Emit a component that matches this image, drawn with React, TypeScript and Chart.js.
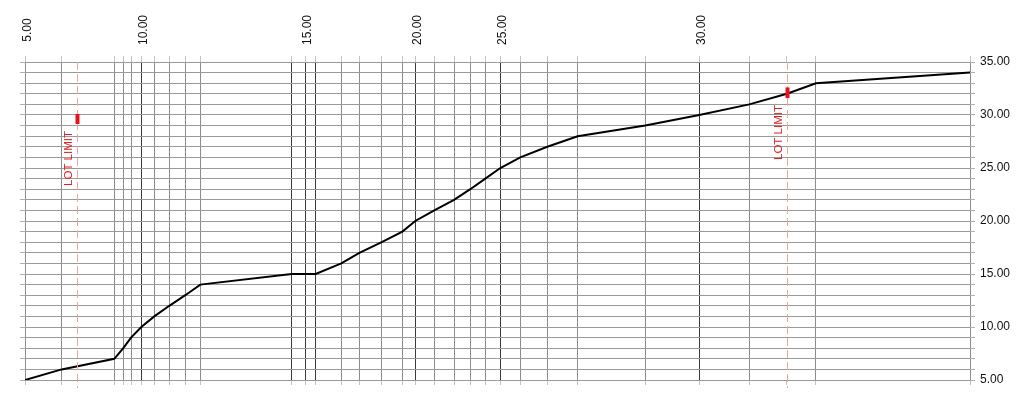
import React, { useEffect, useRef } from 'react';
import { Chart, registerables } from 'chart.js';

Chart.register(...registerables);

// Profile stations (distance along the section) and elevations at each contour crossing
const stations = [0, 3.88, 9.45, 10.4, 11.22, 12.31, 13.68, 15.27, 16.96, 18.55, 28.22, 29.66, 30.76, 33.47, 35.38, 37.75, 39.93, 41.3, 43.31, 45.4, 47.12, 48.71, 50.3, 52.41, 55.27, 58.48, 65.64, 71.35, 76.64, 80.63, 83.7, 100];
const elevations = [5, 6, 7, 8, 9, 10, 11, 12, 13, 14, 15, 15, 15, 16, 17, 18, 19, 20, 21, 22, 23, 24, 25, 26, 27, 28, 29, 30, 31, 32, 33, 34];

// Top axis labels
const topLabelStations = [0, 12.31, 29.66, 41.3, 50.3, 71.35];
const topLabels = ['5.00', '10.00', '15.00', '20.00', '25.00', '30.00'];
const majorStations = [12.31, 28.22, 29.66, 30.76, 41.3, 50.3, 71.35];

// Lot limits
const lotLimitStations = [5.53, 80.63];
const lotLimitMarkerLow = [29.15, 31.6];
const lotLimitMarkerHigh = [30.1, 32.6];
const lotLimitLabel = 'LOT LIMIT';

const yMin = 5;
const yMax = 35;
const xMin = 0;
const xMax = 100;

const FONT = "'Liberation Sans', Arial, sans-serif";

const profilePlugin = {
  id: 'profileExtras',
  afterDatasetsDraw(chart: any) {
    const { ctx, chartArea } = chart;
    const xs = chart.scales.x;
    const ys = chart.scales.y;
    ctx.save();
    // lot limits
    lotLimitStations.forEach((st, i) => {
      const px = Math.round(xs.getPixelForValue(st)) + 0.5;
      ctx.strokeStyle = '#f3a3a3';
      ctx.lineWidth = 1;
      ctx.setLineDash([8, 4]);
      ctx.beginPath();
      ctx.moveTo(px, chartArea.top);
      ctx.lineTo(px, chartArea.bottom + 8);
      ctx.stroke();
      ctx.setLineDash([]);
      const yTop = ys.getPixelForValue(lotLimitMarkerHigh[i]);
      const yBot = ys.getPixelForValue(lotLimitMarkerLow[i]);
      ctx.strokeStyle = '#e8121a';
      ctx.lineWidth = 4;
      ctx.beginPath();
      ctx.moveTo(px, yTop);
      ctx.lineTo(px, yBot);
      ctx.stroke();
      ctx.save();
      ctx.translate(px - 6, yBot + 7);
      ctx.rotate(-Math.PI / 2);
      ctx.fillStyle = '#e02020';
      ctx.font = `11.5px ${FONT}`;
      ctx.textAlign = 'right';
      ctx.textBaseline = 'alphabetic';
      ctx.fillText(lotLimitLabel, 0, 0);
      ctx.restore();
    });
    // top labels
    topLabelStations.forEach((st, i) => {
      const px = xs.getPixelForValue(st);
      ctx.save();
      ctx.translate(px + 6, 30);
      ctx.rotate(-Math.PI / 2);
      ctx.fillStyle = '#111';
      ctx.font = `12px ${FONT}`;
      ctx.textAlign = 'center';
      ctx.textBaseline = 'alphabetic';
      ctx.fillText(topLabels[i], 0, 0);
      ctx.restore();
    });
    ctx.restore();
  },
};

const vColor = (c: any) => {
  const v = c.tick ? c.tick.value : null;
  if (v === null) return 'rgba(0,0,0,0)';
  if (lotLimitStations.includes(v)) return 'rgba(0,0,0,0)';
  if (majorStations.includes(v)) return '#3a3a3a';
  return '#8c8c8c';
};

const vTickColor = (c: any) => {
  const v = c.tick ? c.tick.value : null;
  if (v === null) return 'rgba(0,0,0,0)';
  return '#c4c4c4';
};

const setStationTicks = (scale: any) => {
  scale.ticks = stations.map((v) => ({ value: v }));
};

export default function App() {
  const ref = useRef<HTMLCanvasElement>(null);
  useEffect(() => {
    if (!ref.current) return;
    const chart = new Chart(ref.current, {
      type: 'line',
      data: {
        datasets: [
          {
            data: stations.map((s, i) => ({ x: s, y: elevations[i] })),
            borderColor: '#000',
            borderWidth: 2,
            pointRadius: 0,
            tension: 0,
            fill: false,
            xAxisID: 'x',
            yAxisID: 'y',
          },
        ],
      },
      options: {
        animation: false,
        responsive: true,
        maintainAspectRatio: false,
        layout: { padding: 0 },
        plugins: { legend: { display: false }, tooltip: { enabled: false } },
        scales: {
          x: {
            type: 'linear',
            position: 'top',
            min: xMin,
            max: xMax,
            afterBuildTicks: setStationTicks,
            afterFit: (s: any) => { s.height = 62; },
            ticks: { display: false, autoSkip: false },
            grid: { color: vColor, tickColor: vTickColor, tickLength: 6, lineWidth: 1 },
            border: { display: false },
          },
          x2: {
            type: 'linear',
            position: 'bottom',
            min: xMin,
            max: xMax,
            afterBuildTicks: setStationTicks,
            afterFit: (s: any) => { s.height = 20; },
            ticks: { display: false, autoSkip: false },
            grid: { drawOnChartArea: false, tickColor: vTickColor, tickLength: 5 },
            border: { display: false },
          },
          y: {
            type: 'linear',
            position: 'right',
            min: yMin,
            max: yMax,
            afterFit: (s: any) => { s.width = 54; },
            ticks: {
              stepSize: 1,
              autoSkip: false,
              padding: 5,
              color: '#111',
              font: { family: FONT, size: 12 },
              callback: (v: any) => (Number(v) % 5 === 0 ? Number(v).toFixed(2) : ''),
            },
            grid: { color: '#9a9a9a', tickColor: '#b0b0b0', tickLength: 5 },
            border: { display: false },
          },
          y2: {
            type: 'linear',
            position: 'left',
            min: yMin,
            max: yMax,
            afterFit: (s: any) => { s.width = 25; },
            ticks: { stepSize: 1, autoSkip: false, display: false },
            grid: { drawOnChartArea: false, tickColor: '#b0b0b0', tickLength: 5 },
            border: { display: false },
          },
        },
      } as any,
      plugins: [profilePlugin],
    });
    return () => chart.destroy();
  }, []);
  return (
    <div style={{ position: 'fixed', left: 0, top: 0, width: 1024, height: 400, background: '#fff' }}>
      <canvas ref={ref} />
    </div>
  );
}
